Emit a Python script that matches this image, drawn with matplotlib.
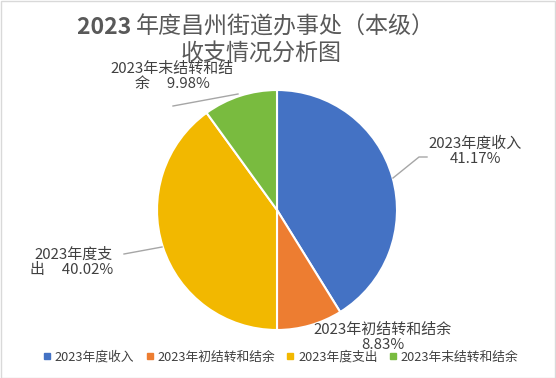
import matplotlib
matplotlib.use("Agg")
import matplotlib.pyplot as plt
from matplotlib.lines import Line2D
from matplotlib.patches import Rectangle

plt.rcParams['font.family'] = ['Noto Sans CJK SC', 'DejaVu Sans']

categories = ['2023年度收入', '2023年初结转和结余', '2023年度支出', '2023年末结转和结余']
values = [41.17, 8.83, 40.02, 9.98]
pct_labels = ['41.17%', '8.83%', '40.02%', '9.98%']
colors = ['#4472C4', '#ED7D31', '#F2B800', '#79BB3F']
title_num = '2023 '
title_rest = '年度昌州街道办事处（本级）'
title_line2 = '收支情况分析图'

W, H = 556, 378
fig = plt.figure(figsize=(W / 100, H / 100), dpi=100)
ax = fig.add_axes([0, 0, 1, 1])

def Y(y):
    return H - y

cx, cy, r = 277, 210, 120
ax.pie(values, colors=colors, startangle=90, counterclock=False,
       center=(cx, Y(cy)), radius=r,
       wedgeprops=dict(edgecolor='white', linewidth=1.5))
ax.set_xlim(0, W)
ax.set_ylim(0, H)
ax.set_aspect('auto')
ax.axis('off')

tc = '#404040'
fs = 10.8
# leader lines
ax.plot([393, 419, 427], [Y(178), Y(157), Y(157)], color='#A6A6A6', lw=1)
ax.plot([124, 162], [Y(254), Y(247)], color='#A6A6A6', lw=1)
ax.plot([173, 238], [Y(106), Y(94)], color='#A6A6A6', lw=1)

ax.text(475, Y(151), categories[0] + '\n' + pct_labels[0], ha='center', va='center',
        fontsize=fs, color=tc, linespacing=1.1)
ax.text(383, Y(337), categories[1] + '\n' + pct_labels[1], ha='center', va='center',
        fontsize=fs, color=tc, linespacing=1.1)
ax.text(113, Y(262), '2023年度支\n出     ' + pct_labels[2], ha='right', va='center',
        fontsize=fs, color=tc, linespacing=1.1, multialignment='right')
ax.text(172, Y(76), '2023年末结转和结\n余     ' + pct_labels[3], ha='center', va='center',
        fontsize=fs, color=tc, linespacing=1.1)

# title
tcol = '#595959'
tfs = 16.6
fig.canvas.draw()
rend = fig.canvas.get_renderer()
t1 = fig.text(0, 0, title_num, fontsize=tfs, fontweight='bold', color=tcol)
t2 = fig.text(0, 0, title_rest, fontsize=tfs, color=tcol)
w1 = t1.get_window_extent(rend).width
w2 = t2.get_window_extent(rend).width
x0 = 256 - (w1 + w2) / 2
t1.set_position((x0 / W, 1 - 27 / H)); t1.set_va('center')
t2.set_position(((x0 + w1) / W, 1 - 27 / H)); t2.set_va('center')
fig.text(261 / W, 1 - 53 / H, title_line2, fontsize=tfs, color=tcol, ha='center', va='center')

handles = [Line2D([], [], marker='s', linestyle='none', markersize=5,
                  markerfacecolor=c, markeredgecolor=c) for c in colors]
leg = fig.legend(handles, categories, loc='center', bbox_to_anchor=(0.505, 1 - 357 / H),
                 ncol=4, frameon=False, fontsize=9.2, handlelength=0.6,
                 handletextpad=0.3, columnspacing=0.9, labelcolor=tc)

fig.patches.append(Rectangle((0.5, 0.5), W - 1.5, H - 1.5, transform=None,
                             fill=False, edgecolor='#D9D9D9', lw=1))
fig.savefig('out.png', dpi=100)
